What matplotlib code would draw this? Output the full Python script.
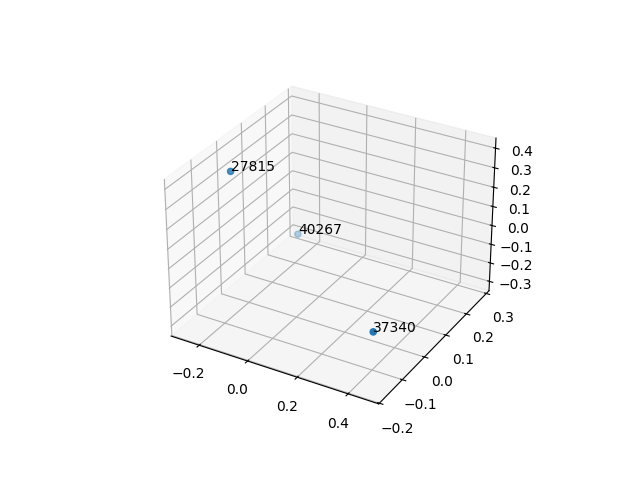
import numpy as np
import matplotlib
matplotlib.use("Agg")
import matplotlib.pyplot as plt

# point labels and their 3D coordinates
labels = ["27815", "37340", "40267"]
xs = [-0.195, 0.465, -0.265]
ys = [-0.064, -0.170, 0.281]
zs = [0.40, -0.045, -0.30]

fig = plt.figure(figsize=(6.4, 4.8))
ax = fig.add_subplot(projection="3d")

ax.scatter(xs, ys, zs)

for lab, x, y, z in zip(labels, xs, ys, zs):
    ax.text(x, y, z, lab)

plt.savefig("out.png", dpi=100)
